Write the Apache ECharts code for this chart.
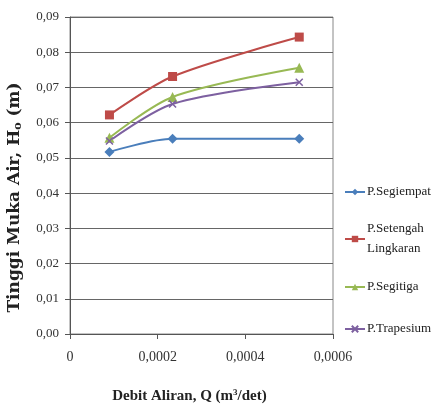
<!DOCTYPE html>
<html>
<head>
<meta charset="utf-8">
<script src="https://cdn.jsdelivr.net/npm/echarts@6/dist/echarts.min.js"></script>
<style>html,body{margin:0;padding:0;background:#fff}#chart{width:444px;height:413px}</style>
</head>
<body>
<div id="chart"></div>
<script>
var debit = [0.00009, 0.000234, 0.000523];
var names = ['P.Segiempat', 'P.Setengah\nLingkaran', 'P.Segitiga', 'P.Trapesium'];
var segiempat = [0.0517, 0.0554, 0.0554];
var setengah = [0.0622, 0.0731, 0.0843];
var segitiga = [0.0557, 0.0673, 0.0756];
var trapesium = [0.0548, 0.0653, 0.0715];
var colors = ['#4A7EBB', '#BE4B48', '#98B954', '#7D60A0'];
var symbols = ['diamond', 'rect', 'triangle', 'path://M0,0L10,10M10,0L0,10'];
var legendTops = [177, 214, 272, 314];

function pairs(vals) {
    return vals.map(function (v, i) { return [debit[i], v]; });
}
var allVals = [segiempat, setengah, segitiga, trapesium];

var myChart = echarts.init(document.getElementById('chart'));
var font = '"Liberation Serif", "DejaVu Serif", serif';
option = {
    animation: false,
    textStyle: { fontFamily: font },
    grid: { left: 70, right: 111, top: 17, bottom: 79, show: true, borderColor: '#888', borderWidth: 1,
        containLabel: false, outerBoundsMode: 'none' },
    legend: names.map(function (n, i) {
        return {
            data: [n], left: 339, top: legendTops[i], itemWidth: 20, itemHeight: 8, itemGap: 2,
            textStyle: { fontFamily: font, fontSize: 13, color: '#222', lineHeight: 20, padding: [0, 0, 0, -3] }
        };
    }),
    xAxis: {
        type: 'value', min: 0, max: 0.0006, interval: 0.0002,
        name: 'Debit Aliran, Q (m{s|3}/det)', nameLocation: 'middle', nameGap: 54,
        nameTextStyle: { fontFamily: font, fontSize: 15, fontWeight: 'bold', color: '#222',
            padding: [0, 24, 0, 0],
            rich: { s: { fontSize: 9, verticalAlign: 'top', fontWeight: 'bold', padding: [0, 0, 7, 0] } } },
        axisLine: { lineStyle: { color: '#555' } },
        axisTick: { show: true, lineStyle: { color: '#555' } },
        splitLine: { show: false },
        axisLabel: { fontFamily: font, fontSize: 14, color: '#333', margin: 16,
            formatter: function (v) { return v === 0 ? '0' : v.toFixed(4).replace('.', ','); } }
    },
    yAxis: {
        type: 'value', min: 0, max: 0.09, interval: 0.01,
        name: 'Tinggi Muka Air, H{s|o} (m)', nameLocation: 'middle', nameGap: 46,
        nameTextStyle: { fontFamily: '"DejaVu Serif", serif', fontSize: 17, fontWeight: 'bold', color: '#222',
            padding: [0, 44, 0, 0],
            rich: { s: { fontFamily: '"DejaVu Serif", serif', fontSize: 11, fontWeight: 'bold', padding: [8, 0, 0, 0] } } },
        axisLine: { show: true, lineStyle: { color: '#555' } },
        axisTick: { show: true, lineStyle: { color: '#555' } },
        splitLine: { lineStyle: { color: '#666' } },
        axisLabel: { fontFamily: font, fontSize: 13, color: '#333', margin: 11,
            formatter: function (v) { return v.toFixed(2).replace('.', ','); } }
    },
    series: names.map(function (n, i) {
        return {
            name: n, type: 'line', data: pairs(allVals[i]), smooth: 0.3,
            symbol: symbols[i], symbolSize: i === 1 ? 9 : (i === 3 ? 7 : 10),
            lineStyle: { color: colors[i], width: 2 },
            itemStyle: { color: colors[i], borderColor: colors[i], borderWidth: i === 3 ? 1.5 : 0 }
        };
    })
};
myChart.setOption(option);
</script>
</body>
</html>
